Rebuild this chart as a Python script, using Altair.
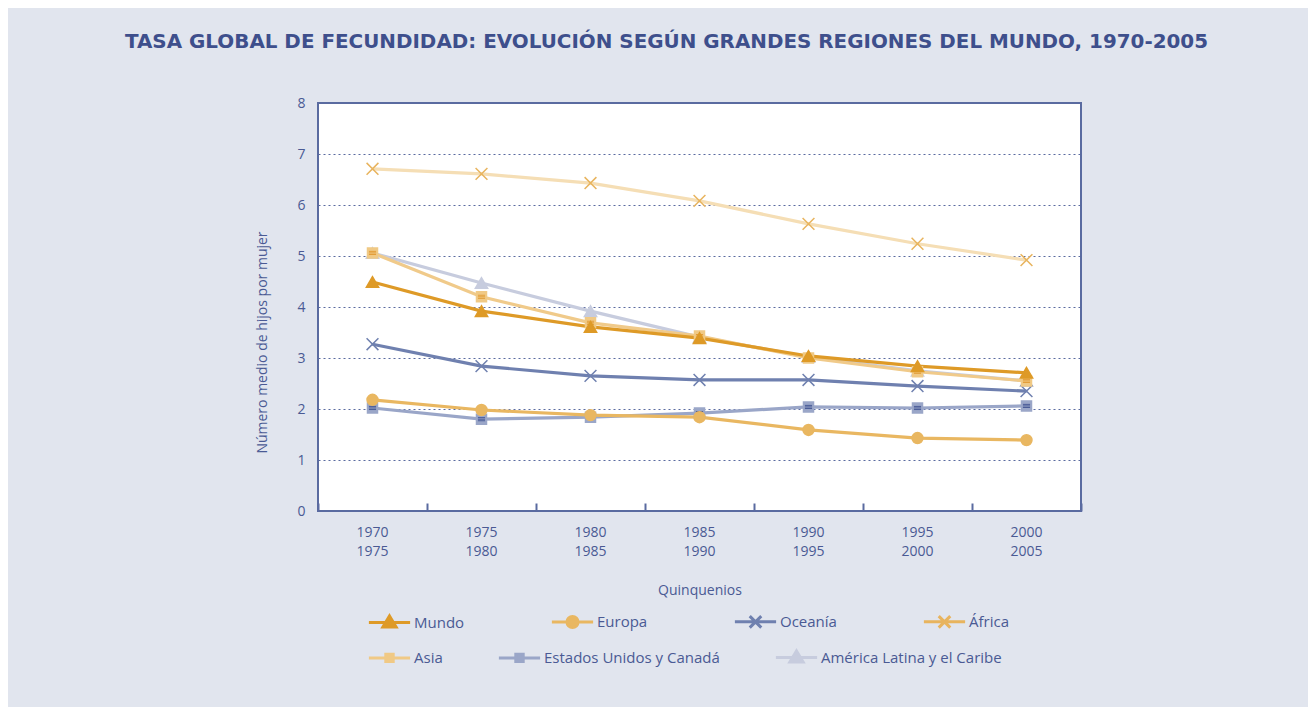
import altair as alt
import pandas as pd

# ---- data ----
periods = ["1970-1975", "1975-1980", "1980-1985", "1985-1990", "1990-1995", "1995-2000", "2000-2005"]
regions = ["Mundo", "Europa", "Oceanía", "África", "Asia",
           "Estados Unidos y Canadá", "América Latina y el Caribe"]
mundo = [4.49, 3.92, 3.61, 3.39, 3.04, 2.84, 2.71]
europa = [2.18, 1.98, 1.88, 1.84, 1.59, 1.43, 1.39]
oceania = [3.27, 2.84, 2.65, 2.57, 2.57, 2.45, 2.35]
africa = [6.71, 6.61, 6.43, 6.08, 5.63, 5.24, 4.92]
asia = [5.06, 4.20, 3.69, 3.43, 3.00, 2.73, 2.55]
eeuu = [2.02, 1.80, 1.84, 1.92, 2.04, 2.02, 2.06]
amlat = [5.06, 4.47, 3.92, 3.41, 3.02, 2.75, 2.55]

# drawing order (bottom -> top)
draw_order = [("América Latina y el Caribe", amlat), ("África", africa), ("Asia", asia),
              ("Estados Unidos y Canadá", eeuu), ("Europa", europa), ("Oceanía", oceania),
              ("Mundo", mundo)]

line_colors = ["#DE9A27", "#E9B761", "#6F80AF", "#F5DEB5", "#F0CA8A", "#9AA6C8", "#C7CCDE"]
marker_colors = ["#DE9A27", "#E9B761", "#6F80AF", "#E8B45E", "#F0C985", "#9AA6C8", "#C7CCDE"]

X_PATH = "M-1,-1L1,1M-1,1L1,-1"
LINES_PATH = "M-0.8,-0.35H0.8M-0.8,0H0.8M-0.8,0.35H0.8"

TRI = "M-1,0H1M0,-0.32L0.32,0.21L-0.32,0.21Z"
CIR = "M-1,0H1M0.27,0A0.27,0.27 0 1 1 -0.27,0A0.27,0.27 0 1 1 0.27,0Z"
XL = "M-1,0H1M-0.28,-0.28L0.28,0.28M-0.28,0.28L0.28,-0.28"
SQ = "M-1,0H1M-0.18,-0.18H0.18V0.18H-0.18Z"
legend_shapes = [TRI, CIR, XL, XL, SQ, SQ, TRI]

rows = []
for name, vals in draw_order:
    for p, v in zip(periods, vals):
        rows.append({"periodo": p, "region": name, "valor": v})
df = pd.DataFrame(rows)

AX = "#5A6BA0"
TXT = "#4A5A94"
FONT = "Open Sans"

x_main = alt.X("periodo:N", sort=periods, scale=alt.Scale(paddingInner=0, paddingOuter=0),
               axis=alt.Axis(title="Quinquenios", orient="bottom", labelExpr="split(datum.value, '-')",
                             labelAngle=0, ticks=False, domain=False, labelPadding=14, labelLineHeight=19,
                             titlePadding=25, labelColor=TXT, titleColor=TXT, labelFontSize=14,
                             titleFontSize=14, titleFontWeight="normal", labelFont=FONT, titleFont=FONT))
x_ticks = alt.X("periodo:N", sort=periods,
                axis=alt.Axis(title=None, orient="bottom", labels=False, domain=False, ticks=True,
                              tickBand="extent", tickSize=8, offset=-8, tickColor=AX, tickWidth=2,
                              grid=False))
x_none = alt.X("periodo:N", sort=periods, axis=None)
y_enc = alt.Y("valor:Q", scale=alt.Scale(domain=[0, 8], nice=False),
              axis=alt.Axis(title="Número medio de hijos por mujer", values=list(range(0, 9)),
                            ticks=False, domain=False, labelPadding=13, grid=True,
                            gridDash=[2, 3], gridColor=AX, gridWidth=1.2, titlePadding=27,
                            titleY=239,
                            labelColor=TXT, titleColor=TXT, labelFontSize=14, titleFontSize=14,
                            titleFontWeight="normal", labelFont=FONT, titleFont=FONT))
y_plain = alt.Y("valor:Q")

base = alt.Chart(df)


def fill_stroke(domain, rng, legend=None):
    return dict(
        fill=alt.Fill("region:N", scale=alt.Scale(domain=domain, range=rng), legend=legend),
        stroke=alt.Stroke("region:N", scale=alt.Scale(domain=domain, range=rng), legend=legend),
    )


lines = base.mark_line(strokeWidth=3.2).encode(
    x=x_main, y=y_enc,
    color=alt.Color("region:N", scale=alt.Scale(domain=regions, range=line_colors), legend=None),
    detail="region:N",
)


def marker_layer(names, shape, size, sw=1.5):
    return base.transform_filter(alt.FieldOneOfPredicate(field="region", oneOf=names)).mark_point(
        shape=shape, size=size, strokeWidth=sw, opacity=1
    ).encode(x=x_none, y=y_plain, **fill_stroke(regions, marker_colors))


m_amlat = marker_layer(["América Latina y el Caribe"], "triangle-up", 150)
m_x = marker_layer(["África", "Oceanía"], X_PATH, 140)
m_sq = marker_layer(["Asia", "Estados Unidos y Canadá"], "square", 100)
m_sq_lines_a = base.transform_filter(alt.datum.region == "Asia").mark_point(
    shape=LINES_PATH, size=80, stroke="#E39E3A", strokeWidth=1, filled=False, opacity=1
).encode(x=x_none, y=y_plain)
m_sq_lines_e = base.transform_filter(alt.datum.region == "Estados Unidos y Canadá").mark_point(
    shape=LINES_PATH, size=80, stroke="#4A5C97", strokeWidth=1, filled=False, opacity=1
).encode(x=x_none, y=y_plain)
m_circ = marker_layer(["Europa"], "circle", 120)
m_mundo = marker_layer(["Mundo"], "triangle-up", 150)


def legend_layer(names, lx, ly, pad, xenc):
    idx = [regions.index(n) for n in names]
    shapes = [legend_shapes[i] for i in idx]
    cols = [marker_colors[i] for i in idx]
    leg = alt.Legend(title=None, orient="none", legendX=lx, legendY=ly, columns=len(names),
                     direction="horizontal", columnPadding=pad, symbolSize=1700,
                     symbolStrokeWidth=3, symbolOpacity=1, labelFontSize=15, labelFont=FONT,
                     labelColor=TXT, labelOffset=2, labelLimit=400)
    return base.transform_filter(alt.FieldOneOfPredicate(field="region", oneOf=names)).mark_point(
        opacity=0
    ).encode(
        x=xenc, y=y_plain,
        shape=alt.Shape("region:N", scale=alt.Scale(domain=names, range=shapes), legend=leg),
        **fill_stroke(names, cols, leg),
    )


leg1 = legend_layer(regions[:4], 49, 496, 80, x_ticks)
leg2 = legend_layer(regions[4:], 49, 532, 49, x_none)

chart = alt.layer(
    lines, leg1, m_amlat, m_x, m_sq, m_sq_lines_a, m_sq_lines_e, m_circ, m_mundo, leg2
).resolve_scale(
    shape="independent", fill="independent", stroke="independent"
).resolve_axis(x="independent").properties(
    width=763, height=408,
    autosize=alt.AutoSizeParams(type="none"),
    padding={"left": 310, "top": 95, "right": 227, "bottom": 196},
    background="#E1E5EE",
    title=alt.TitleParams(
        "TASA GLOBAL DE FECUNDIDAD: EVOLUCIÓN SEGÚN GRANDES REGIONES DEL MUNDO, 1970-2005",
        anchor="middle", dx=-33, offset=44, fontSize=19.9, font="DejaVu Sans", fontWeight="bold",
        color="#3E4F8C"),
).configure_view(fill="white", stroke=AX, strokeWidth=2)

chart.save("out.html", embed_options={"renderer": "svg", "actions": False})
